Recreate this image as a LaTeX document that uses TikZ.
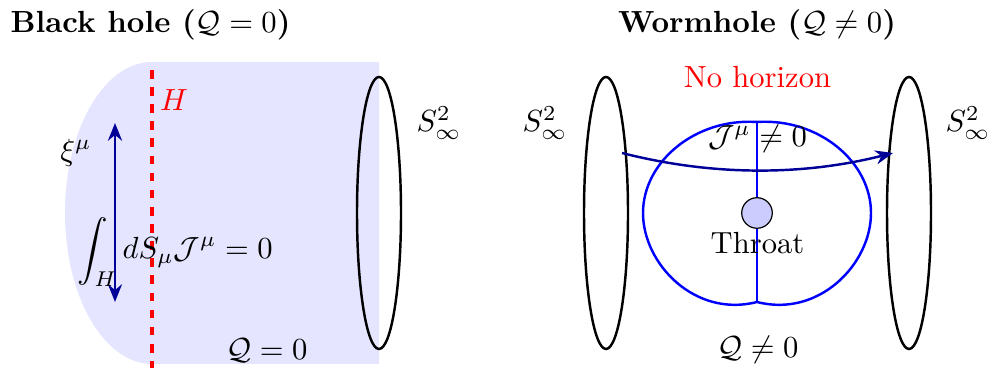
\documentclass[tikz,border=0pt]{standalone}
\usepackage{amsmath}
\usetikzlibrary{arrows.meta}
\definecolor{navyarrow}{rgb}{0,0,0.6}
\tikzset{
  ring/.style={draw=black,thick},
  lbl/.style={inner sep=0pt,anchor=base},
  flux/.style={draw=navyarrow,thick,-{Stealth[length=5.8pt,width=4.6pt]}},
  fluxboth/.style={draw=navyarrow,thick,{Stealth[length=5.8pt,width=4.6pt]}-{Stealth[length=5.8pt,width=4.6pt]}},
}
\begin{document}
\begin{tikzpicture}[x=0.327pt,y=0.327pt]
\useasboundingbox (0,0) rectangle (989,368);
% ---------- Black hole panel ----------
\fill[blue!10] (379,306) -- (152,306) arc[start angle=90,end angle=270,x radius=87,y radius=151] -- (379,4) -- cycle;
\coordinate (htop) at (152,298);
\coordinate (hbot) at (152,0);
\draw[red,line width=1pt,dash pattern=on 2.8pt off 2.8pt] (htop) -- (hbot);
\node[lbl,red] (Hlab) at (174,257) {$H$};
\coordinate (xitop) at (115,245);
\coordinate (xibot) at (115,66);
\draw[fluxboth] (xibot) -- (xitop);
\node[lbl] (xi) at (76,207) {$\xi^\mu$};
\node[lbl] (integral) at (175,109) {$\displaystyle\int_H dS_\mu \mathcal{J}^\mu = 0$};
\draw[ring] (379,155) ellipse[x radius=22,y radius=136];
\node[lbl] (sinfA) at (439,236) {$S^2_\infty$};
\node[lbl] (QA) at (267,8) {$\mathcal{Q} = 0$};
\node[lbl,anchor=base west] (titleA) at (10,335) {\textbf{Black hole ($\mathcal{Q}=0$)}};
% ---------- Wormhole panel ----------
\node[lbl] (titleB) at (757,335) {\textbf{Wormhole ($\mathcal{Q}\neq0$)}};
\node[lbl,red] (nohor) at (757.5,280) {No horizon};
\draw[ring] (606,155) ellipse[x radius=22,y radius=136];
\draw[ring] (909,155) ellipse[x radius=22,y radius=136];
\node[lbl] (sinfB) at (545,236) {$S^2_\infty$};
\node[lbl] (sinfC) at (968,236) {$S^2_\infty$};
\coordinate (wtop) at (757,246);
\coordinate (wbot) at (757,66);
\coordinate (wleft) at (643,155);
\coordinate (wright) at (871,155);
\draw[blue,thick] (wtop) .. controls (695,250) and (643,206) .. (wleft)
                         .. controls (643,104) and (695,50) .. (wbot)
                         .. controls (819,50) and (871,104) .. (wright)
                         .. controls (871,206) and (819,250) .. (wtop);
\draw[blue,thick] (wtop) -- (wbot);
\coordinate (astart) at (622,215);
\coordinate (aend) at (893,215);
\draw[flux] (astart) .. controls (712,192) and (802,192) .. (aend);
\node[circle,draw=black,fill=blue!20,inner sep=0pt,minimum size=10pt] (throat) at (757,155) {};
\node[lbl] (throatlab) at (757.5,114) {Throat};
\node[lbl] (Jlab) at (757.5,221) {$\mathcal{J}^\mu \neq 0$};
\node[lbl] (QB) at (758,10) {$\mathcal{Q} \neq 0$};
\end{tikzpicture}
\end{document}
